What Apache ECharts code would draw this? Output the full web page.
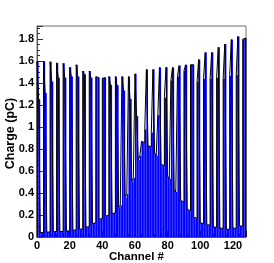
<!DOCTYPE html>
<html><head><meta charset="utf-8">
<script src="https://cdn.jsdelivr.net/npm/echarts@6/dist/echarts.min.js"></script>
<style>html,body{margin:0;padding:0;background:#fff}#c{width:274px;height:263px}</style>
</head><body><div id="c"></div>
<script>
// Main peak channels and their charges
const darkCh = [0,4,8,12,16,20,24,28,32,36,40,44,48,52,56,60,67,71,75,79,83,87,91,95,99,103,107,111,115,119,123,127];
const darkVal = [1.60,1.60,1.595,1.585,1.58,1.545,1.567,1.51,1.51,1.458,1.445,1.46,1.46,1.46,1.46,1.485,1.525,1.525,1.543,1.545,1.543,1.56,1.567,1.567,1.615,1.68,1.68,1.727,1.755,1.797,1.825,1.81];
// Neighbour channels (second peak of each group)
const blueCh = [1,5,9,13,17,21,25,29,33,37,41,45,49,53,57,61,66,70,74,78,82,86,90,94,98,102,106,110,114,118,122,126];
const blueVal = [1.25,1.31,1.415,1.45,1.45,1.46,1.46,1.48,1.45,1.45,1.45,1.385,1.38,1.333,1.255,1.10,0.98,0.95,1.11,1.27,1.425,1.46,1.51,1.567,1.41,1.44,1.44,1.45,1.44,1.467,1.475,1.80];
// Low (cross-talk) channels
const lowCh = [2,3,6,7,10,11,14,15,18,19,22,23,26,27,30,31,34,35,38,39,42,43,46,47,50,51,54,55,58,59,62,63,
  64,65,68,69,72,73,76,77,80,81,84,85,88,89,92,93,96,97,100,101,104,105,108,109,112,113,116,117,120,121,124,125];
const lowVal = [0.04,0.04,0.045,0.045,0.05,0.05,0.05,0.05,0.055,0.055,0.06,0.065,0.07,0.075,0.09,0.094,0.12,0.13,0.16,0.17,0.19,0.2,0.21,0.22,0.27,0.29,0.36,0.39,0.5,0.54,0.7,0.74,
  0.87,0.86,0.83,0.82,0.76,0.74,0.66,0.65,0.55,0.53,0.43,0.41,0.33,0.32,0.25,0.24,0.18,0.17,0.13,0.12,0.11,0.11,0.09,0.09,0.08,0.08,0.07,0.07,0.08,0.08,0.1,0.1];
const xTicks = [0,20,40,60,80,100,120];
const yTicks = [0,0.2,0.4,0.6,0.8,1,1.2,1.4,1.6,1.8];
const nBins = 128;

// assemble one histogram (bin -> charge)
const hist = new Array(nBins).fill(0);
darkCh.forEach((c,i)=>{ hist[c] = darkVal[i]; });
blueCh.forEach((c,i)=>{ hist[c] = blueVal[i]; });
lowCh.forEach((c,i)=>{ hist[c] = lowVal[i]; });
const binData = hist.map((v,i)=>[i, v]);
// step outline points (left edge of each bin)
const outline = [[0,0]];
hist.forEach((v,i)=>outline.push([i, v]));
outline.push([nBins, hist[nBins-1]]);
outline.push([nBins, 0]);

function renderBin(params, api){
  const p0 = api.coord([api.value(0), 0]);
  const p1 = api.coord([api.value(0) + 1, api.value(1)]);
  return {type:'rect', shape:{x:p0[0], y:p1[1], width:p1[0]-p0[0], height:p0[1]-p1[1]},
    style:{fill:'#0000ff'}};
}
const font = '"Liberation Sans", Arial, sans-serif';
const chart = echarts.init(document.getElementById('c'), null, {renderer:'canvas'});
chart.setOption({
  animation:false,
  grid:{left:37, right:28, top:26, bottom:26, containLabel:false, outerBoundsMode:'none',
    show:true, borderColor:'#707070', borderWidth:1, backgroundColor:'transparent'},
  xAxis:{type:'value', min:0, max:128, interval:20,
    name:'Channel #', nameLocation:'middle', nameGap:14, nameMoveOverlap:false,
    nameTextStyle:{fontFamily:font, fontWeight:'bold', fontSize:11.5, color:'#000', verticalAlign:'top', padding:[0,10,0,0]},
    axisLine:{show:true, lineStyle:{color:'#555'}},
    axisTick:{show:true, inside:true, length:6, lineStyle:{color:'#333'}},
    minorTick:{show:true, splitNumber:5, length:3, lineStyle:{color:'#333'}},
    splitLine:{show:false},
    axisLabel:{fontFamily:font, fontWeight:'bold', fontSize:11, color:'#000', margin:3,
      formatter:v=> xTicks.indexOf(v) >= 0 ? String(v) : ''}},
  yAxis:{type:'value', min:0, max:1.92, interval:0.2,
    name:'Charge (pC)', nameLocation:'middle', nameGap:20, nameRotate:90, nameMoveOverlap:false,
    nameTextStyle:{fontFamily:font, fontWeight:'bold', fontSize:12.5, color:'#000', verticalAlign:'bottom', padding:[0,4,0,0]},
    axisLine:{show:true, lineStyle:{color:'#555'}},
    axisTick:{show:true, inside:true, length:6, lineStyle:{color:'#333'}},
    minorTick:{show:true, splitNumber:4, length:3, lineStyle:{color:'#333'}},
    splitLine:{show:false},
    axisLabel:{fontFamily:font, fontWeight:'bold', fontSize:11, color:'#000', margin:3,
      formatter:v=>{ const t = yTicks.find(k=>Math.abs(k-v)<1e-6); return t===undefined ? '' : String(t); }}},
  series:[
    {type:'custom', renderItem:renderBin, data:binData, clip:true},
    {type:'line', data:outline, step:'end', symbol:'none', silent:true,
      lineStyle:{color:'#000', width:1}, z:3}
  ]
});
</script></body></html>
